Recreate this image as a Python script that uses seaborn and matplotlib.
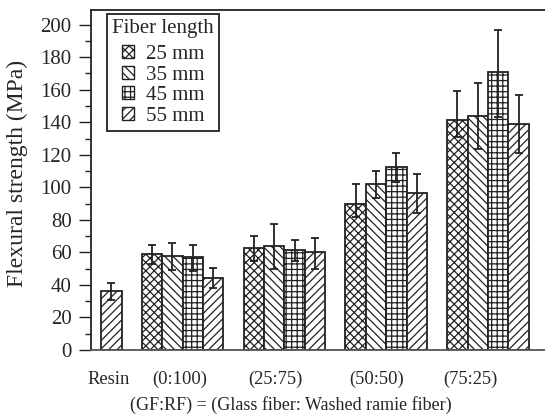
import numpy as np
import pandas as pd
import matplotlib
matplotlib.use("Agg")
import matplotlib.pyplot as plt
from matplotlib.patches import Patch
from matplotlib.ticker import MultipleLocator
import seaborn as sns

# ---------------- data ----------------
groups = ["Resin", "(0:100)", "(25:75)", "(50:50)", "(75:25)"]
lengths = ["25 mm", "35 mm", "45 mm", "55 mm"]

# strength per fiber length for groups (0:100), (25:75), (50:50), (75:25)
s25 = [59.0, 62.5, 90.0, 141.5]
s35 = [58.0, 64.0, 102.0, 144.0]
s45 = [57.0, 61.5, 112.5, 171.0]
s55 = [44.5, 60.0, 96.5, 139.0]
resin = 36.0

# error bars (lower, upper)
e25_lo = [6.0, 7.5, 8.0, 10.5]
e25_hi = [5.5, 7.5, 12.0, 17.5]
e35_lo = [9.0, 14.5, 8.5, 20.5]
e35_hi = [8.0, 13.5, 8.0, 20.0]
e45_lo = [8.5, 6.5, 9.0, 27.5]
e45_hi = [7.5, 6.0, 8.5, 26.0]
e55_lo = [6.5, 10.0, 12.0, 18.0]
e55_hi = [6.0, 9.0, 11.5, 17.5]
resin_lo = 5.0
resin_hi = 5.0

hatches = ["xxxx", "\\\\\\\\", "+++", "////"]

# ---------------- table ----------------
rows = [dict(group="Resin", length="55 mm", value=resin, lo=resin_lo, hi=resin_hi)]
series = [(s25, e25_lo, e25_hi), (s35, e35_lo, e35_hi),
          (s45, e45_lo, e45_hi), (s55, e55_lo, e55_hi)]
for L, (vals, lo, hi) in zip(lengths, series):
    for g, v, a, b in zip(groups[1:], vals, lo, hi):
        rows.append(dict(group=g, length=L, value=v, lo=a, hi=b))
df = pd.DataFrame(rows)

# ---------------- plot ----------------
sns.set_style("ticks")
plt.rcParams["font.family"] = ["Liberation Serif", "DejaVu Serif"]
plt.rcParams["hatch.linewidth"] = 0.9
plt.rcParams["hatch.color"] = "#222222"

fig = plt.figure(figsize=(5.45, 4.18), dpi=100)
ax = fig.add_axes([91 / 545, 1 - 350 / 418, 1 - 91 / 545, (350 - 10) / 418])

sns.barplot(data=df, x="group", y="value", hue="length",
            order=groups, hue_order=lengths,
            palette={L: "white" for L in lengths},
            width=0.8, errorbar=None, legend=False, ax=ax,
            edgecolor="#222222", linewidth=1.3)

lookup = {(r.group, r.length): (r.lo, r.hi) for r in df.itertuples()}
for L, h, cont in zip(lengths, hatches, ax.containers):
    xs, ys, los, his = [], [], [], []
    for bar in cont:
        bar.set_hatch(h)
        bar.set_facecolor("white")
        bar.set_edgecolor("#222222")
        xc = bar.get_x() + bar.get_width() / 2
        g = groups[int(round(xc))]
        if (g, L) not in lookup:
            continue
        lo, hi = lookup[(g, L)]
        xs.append(xc)
        ys.append(bar.get_height())
        los.append(lo)
        his.append(hi)
    ax.errorbar(xs, ys, yerr=[los, his], fmt="none", ecolor="#222222",
                elinewidth=1.3, capsize=3, capthick=1.3, zorder=5)

ax.set_xlim(0.1, 4.56)
ax.set_ylim(0, 209)
ax.yaxis.set_major_locator(MultipleLocator(20))
ax.yaxis.set_minor_locator(MultipleLocator(10))
ax.tick_params(axis="y", which="major", length=8.5, width=1.0, direction="out",
               labelsize=15, pad=5.5, color="#222222")
ax.tick_params(axis="y", which="minor", length=4.5, width=1.0, direction="out",
               color="#222222")

tick_pos = [0.27, 0.975, 1.91, 2.91, 3.83]
ax.set_xticks(tick_pos)
ax.set_xticklabels(groups)
ax.tick_params(axis="x", length=0, labelsize=13.3, pad=15)

for s in ["left", "top", "bottom"]:
    ax.spines[s].set_linewidth(1.3)
    ax.spines[s].set_color("#222222")
ax.spines["bottom"].set_color("#555555")
ax.spines["right"].set_visible(False)

ax.set_ylabel("Flexural strength (MPa)", fontsize=17, va="center")
ax.yaxis.set_label_coords(-0.161, 0.52)
ax.set_xlabel("(GF:RF) = (Glass fiber: Washed ramie fiber)", fontsize=13, va="center")
ax.xaxis.set_label_coords(0.44, -0.162)

handles = [Patch(facecolor="white", edgecolor="#222222", hatch=h, label=L, linewidth=1.0)
           for L, h in zip(lengths, hatches)]
leg = ax.legend(handles=handles, title="Fiber length", loc="upper left",
                bbox_to_anchor=(107 / 545, 1 - 14 / 418), bbox_transform=fig.transFigure,
                borderaxespad=0, fontsize=15, title_fontsize=15,
                frameon=True, fancybox=False, edgecolor="#222222",
                handlelength=0.6, handleheight=0.6, handletextpad=0.55,
                labelspacing=0.07, borderpad=0.25)
leg._legend_box.sep = 5
leg.get_frame().set_linewidth(1.3)
leg.get_frame().set_alpha(1)

fig.savefig("out.png", dpi=100)
